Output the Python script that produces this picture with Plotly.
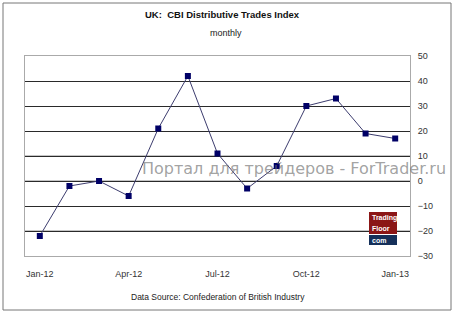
import plotly.graph_objects as go

months = ["Jan-12", "Feb-12", "Mar-12", "Apr-12", "May-12", "Jun-12", "Jul-12",
          "Aug-12", "Sep-12", "Oct-12", "Nov-12", "Dec-12", "Jan-13"]
values = [-22, -2, 0, -6, 21, 42, 11, -3, 6, 30, 33, 19, 17]
tick_positions = [0, 3, 6, 9, 12]
tick_labels = ["Jan-12", "Apr-12", "Jul-12", "Oct-12", "Jan-13"]
y_ticks = [-30, -20, -10, 0, 10, 20, 30, 40, 50]

W, H = 455, 313
L, R, T, B = 25, 45, 56, 57
PW, PH = W - L - R, H - T - B

def px(x):
    return (x - L) / PW

def py(y):
    return (H - B - y) / PH

FONT = "Liberation Sans"

fig = go.Figure()
fig.add_trace(go.Scatter(
    x=list(range(len(months))), y=values, mode="lines+markers",
    line=dict(color="#3c3c6e", width=1),
    marker=dict(symbol="square", size=6, color="#000066"),
    hoverinfo="skip", showlegend=False,
))

shapes = []
for v in [10, 0, -20]:
    shapes.append(dict(type="line", xref="paper", yref="y", x0=0, x1=1, y0=v, y1=v,
                       line=dict(color="#8a8a8a", width=1), layer="below"))
shapes.append(dict(type="rect", xref="paper", yref="paper",
                   x0=px(3), x1=px(451), y0=py(3), y1=py(310),
                   line=dict(color="#777777", width=1)))
shapes.append(dict(type="rect", xref="paper", yref="paper",
                   x0=px(369), x1=px(397), y0=py(212), y1=py(234),
                   fillcolor="#8b1616", line=dict(width=0), layer="above"))
shapes.append(dict(type="rect", xref="paper", yref="paper",
                   x0=px(369), x1=px(397), y0=py(235), y1=py(245),
                   fillcolor="#15305a", line=dict(width=0), layer="above"))

def ann(text, x, y, size, color, family=FONT, xanchor="center"):
    return dict(text=text, x=px(x), y=py(y), xref="paper", yref="paper",
                xanchor=xanchor, yanchor="middle", showarrow=False,
                font=dict(family=family, size=size, color=color))

annotations = [
    ann("<b>UK:  CBI Distributive Trades Index</b>", 223, 15, 9.5, "#111"),
    ann("monthly", 226, 33, 9, "#222"),
    ann("Data Source: Confederation of British Industry", 218, 297, 8.5, "#222"),
    ann("Портал для трейдеров - ForTrader.ru", 294, 168.5, 16,
        "rgba(110,110,110,0.65)", family="DejaVu Sans"),
    ann("<b>Trading</b>", 370, 218, 7, "white", xanchor="left"),
    ann("<b>Floor</b>", 370, 228, 7, "white", xanchor="left"),
    ann("<b>com</b>", 370, 240, 7, "white", xanchor="left"),
]

fig.update_layout(
    width=W, height=H, margin=dict(l=L, r=R, t=T, b=B),
    paper_bgcolor="white", plot_bgcolor="white",
    xaxis=dict(range=[-0.5, 12.5], tickvals=tick_positions, ticktext=tick_labels,
               showgrid=False, zeroline=False, showline=True, mirror=True,
               linecolor="#aaaaaa", linewidth=1, ticks="",
               ticklabelstandoff=9,
               tickfont=dict(family=FONT, size=9, color="#333")),
    yaxis=dict(range=[-30, 50], tickvals=y_ticks, side="right",
               showgrid=True, gridcolor="#2a2a2a", gridwidth=1,
               zeroline=False, showline=True, mirror=True,
               linecolor="#aaaaaa", linewidth=1, ticks="",
               ticklabelstandoff=5,
               tickfont=dict(family=FONT, size=9, color="#333")),
    shapes=shapes, annotations=annotations,
)

fig.write_html("out.html")
